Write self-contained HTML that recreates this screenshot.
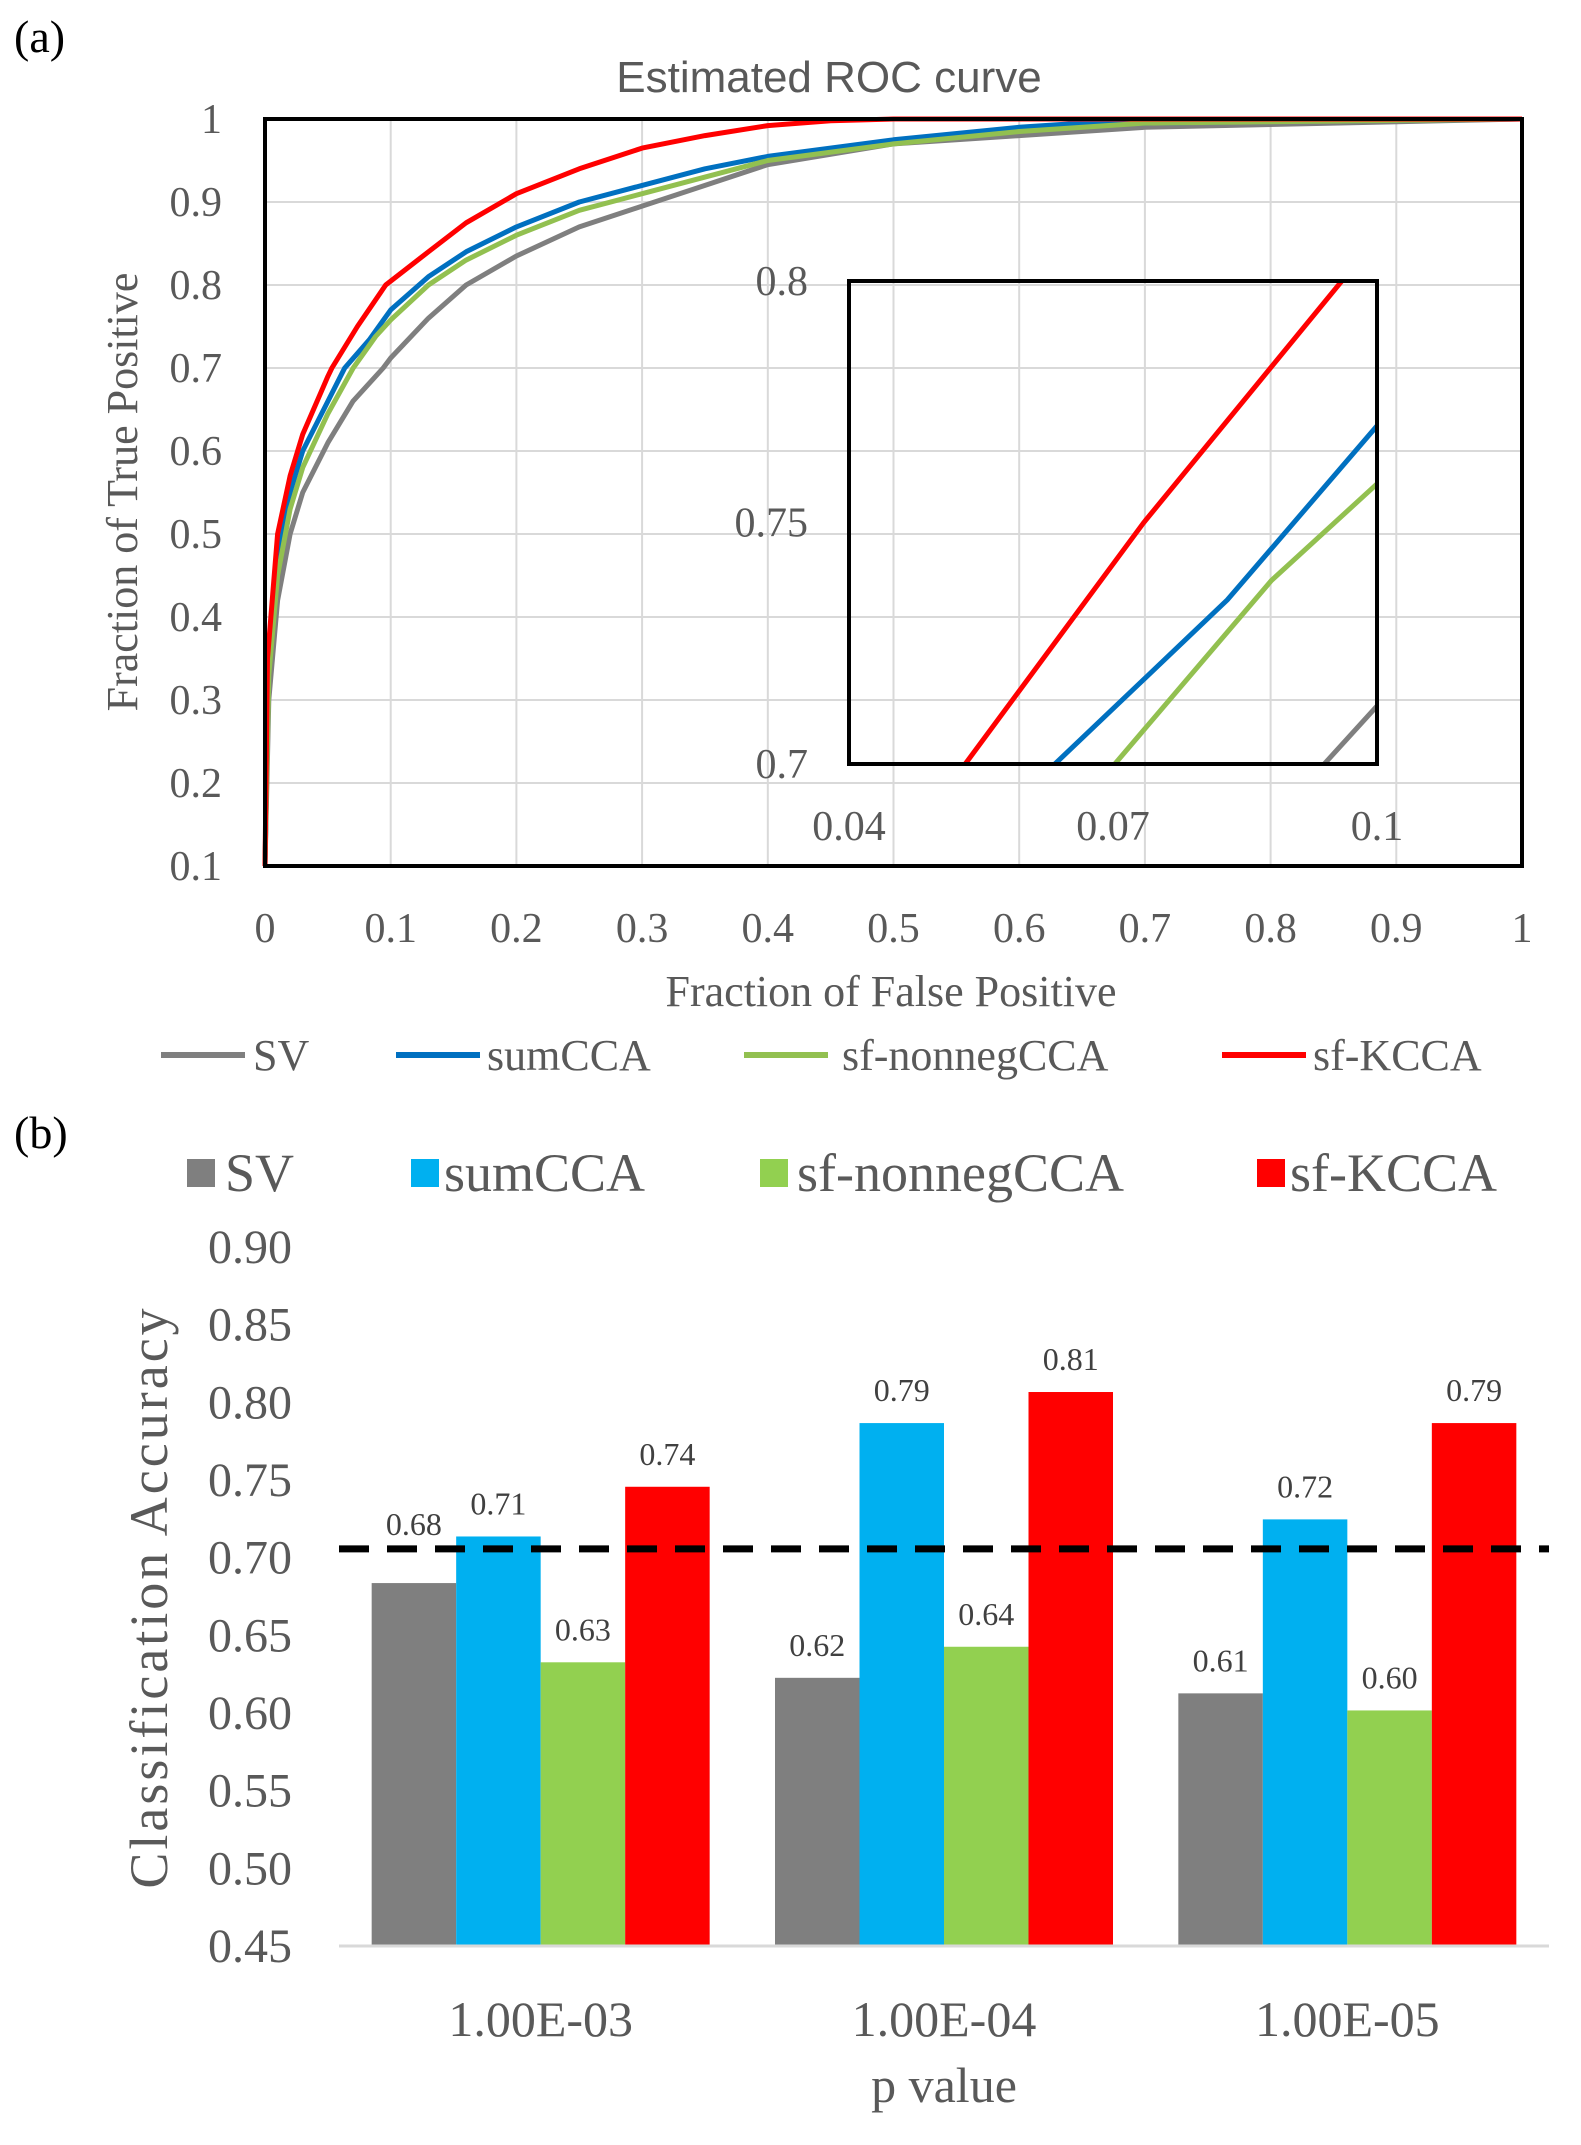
<!DOCTYPE html>
<html><head><meta charset="utf-8"><style>
html,body{margin:0;padding:0;background:#fff;width:1581px;height:2145px;overflow:hidden;}
svg{display:block;}
text{font-family:"Liberation Serif",serif;fill:#595959;}
</style></head><body>
<svg id="s" width="1581" height="2145" viewBox="0 0 1581 2145" xmlns="http://www.w3.org/2000/svg">
<text x="14" y="52" font-size="46" style="fill:#000">(a)</text>
<text x="829" y="92" font-size="44" text-anchor="middle" style="font-family:'Liberation Sans',sans-serif">Estimated ROC curve</text>
<g id="roc"></g>
<text x="14" y="1148" font-size="46" style="fill:#000">(b)</text>
<g id="bar"></g>
</svg>
<script>
const NS="http://www.w3.org/2000/svg";
function mk(p,t,a,txt){const e=document.createElementNS(NS,t);for(const k in a)e.setAttribute(k,a[k]);if(txt!==undefined)e.textContent=txt;p.appendChild(e);return e;}

// ---- ROC data ----
const seriesNames=["SV","sumCCA","sf-nonnegCCA","sf-KCCA"];
const seriesColors=["#7f7f7f","#0070c0","#92c050","#ff0000"];
const svFpr=[0,0.003,0.01,0.02,0.03,0.05,0.07,0.094,0.1,0.13,0.16,0.2,0.25,0.3,0.35,0.4,0.5,0.6,0.7,1];
const svTpr=[0.1,0.3,0.42,0.5,0.55,0.61,0.66,0.7,0.712,0.76,0.8,0.835,0.87,0.895,0.92,0.945,0.97,0.98,0.99,1];
const sumFpr=[0,0.003,0.01,0.02,0.03,0.05,0.0634,0.083,0.1,0.13,0.16,0.2,0.25,0.3,0.35,0.4,0.5,0.6,0.65,0.7,0.8,1];
const sumTpr=[0.1,0.35,0.47,0.55,0.6,0.66,0.7,0.734,0.77,0.81,0.84,0.87,0.9,0.92,0.94,0.955,0.975,0.99,0.995,0.995,0.997,1];
const nnFpr=[0,0.003,0.01,0.02,0.03,0.05,0.0702,0.088,0.1,0.13,0.16,0.2,0.25,0.3,0.35,0.4,0.5,0.6,0.7,1];
const nnTpr=[0.1,0.33,0.45,0.53,0.58,0.645,0.7,0.738,0.758,0.8,0.83,0.86,0.89,0.91,0.93,0.95,0.97,0.985,0.995,1];
const kFpr=[0,0.002,0.01,0.02,0.03,0.05,0.0532,0.0735,0.096,0.13,0.16,0.2,0.25,0.3,0.35,0.4,0.45,0.5,1];
const kTpr=[0.1,0.35,0.5,0.57,0.62,0.69,0.7,0.75,0.8,0.84,0.875,0.91,0.94,0.965,0.98,0.992,0.998,1,1];
const xTicks=["0","0.1","0.2","0.3","0.4","0.5","0.6","0.7","0.8","0.9","1"];
const yTicks=["0.1","0.2","0.3","0.4","0.5","0.6","0.7","0.8","0.9","1"];
const insetXTicks=["0.04","0.07","0.1"];
const insetYTicks=["0.7","0.75","0.8"];

const roc=document.getElementById('roc');
const L=265,R=1522,T=119,B=866;
const X=v=>L+(v-0)/(1-0)*(R-L);
const Y=v=>B-(v-0.1)/(0.9)*(B-T);
for(let i=0;i<xTicks.length;i++){const v=+xTicks[i];
 const g=mk(roc,'line',{x1:X(v),x2:X(v),y1:T,y2:B,stroke:'#d9d9d9','stroke-width':2});
 
 const t=mk(roc,'text',{x:X(v),y:942,'font-size':42,'text-anchor':'middle'},xTicks[i]);
 }
for(let i=0;i<yTicks.length;i++){const v=+yTicks[i];
 const g=mk(roc,'line',{x1:L,x2:R,y1:Y(v),y2:Y(v),stroke:'#d9d9d9','stroke-width':2});
 
 const t=mk(roc,'text',{x:222,y:Y(v)+14,'font-size':42,'text-anchor':'end'},yTicks[i]);
 }
const xs=[svFpr,sumFpr,nnFpr,kFpr],ys=[svTpr,sumTpr,nnTpr,kTpr];
for(let s=0;s<4;s++){
 const d=xs[s].map((x,i)=>(i?'L':'M')+X(x).toFixed(1)+','+Y(ys[s][i]).toFixed(1)).join('');
 const p=mk(roc,'path',{d:d,fill:'none',stroke:seriesColors[s],'stroke-width':5,'stroke-linejoin':'round'});
 }
const fr=mk(roc,'rect',{x:L,y:T,width:R-L,height:B-T,fill:'none',stroke:'#000','stroke-width':4});

// inset
const iL=849,iR=1377,iT=281,iB=764;
const IX=v=>iL+(v-0.04)/0.06*(iR-iL);
const IY=v=>iB-(v-0.7)/0.1*(iB-iT);
mk(roc,'clipPath',{id:'ic'});
mk(document.getElementById('ic'),'rect',{x:iL,y:iT,width:iR-iL,height:iB-iT});
for(let s=0;s<4;s++){
 const d=xs[s].map((x,i)=>(i?'L':'M')+IX(x).toFixed(1)+','+IY(ys[s][i]).toFixed(1)).join('');
 const p=mk(roc,'path',{d:d,fill:'none',stroke:seriesColors[s],'stroke-width':5,'clip-path':'url(#ic)'});
 }
const ifr=mk(roc,'rect',{x:iL,y:iT,width:iR-iL,height:iB-iT,fill:'none',stroke:'#000','stroke-width':4});

for(const s of insetXTicks){const t=mk(roc,'text',{x:IX(+s),y:840,'font-size':42,'text-anchor':'middle'},s);
 }
for(const s of insetYTicks){const t=mk(roc,'text',{x:808,y:IY(+s)+14,'font-size':42,'text-anchor':'end'},s);
 }
let t1=mk(roc,'text',{x:891,y:1006,'font-size':44,'text-anchor':'middle'},'Fraction of False Positive');

let t2=mk(roc,'text',{x:0,y:0,'font-size':44,'text-anchor':'middle',transform:'translate(137,492) rotate(-90)'},'Fraction of True Positive');

const legLX=[161,396,744,1222],legTX=[253,487,842,1313];
for(let s=0;s<4;s++){
 const l=mk(roc,'line',{x1:legLX[s],x2:legLX[s]+84,y1:1055,y2:1055,stroke:seriesColors[s],'stroke-width':6});
 
 const t=mk(roc,'text',{x:legTX[s],y:1070,'font-size':44},seriesNames[s]);
 }

// ---- Bar data ----
const categories=["1.00E-03","1.00E-04","1.00E-05"];
const svVals=[0.683,0.622,0.612];
const sumVals=[0.713,0.786,0.724];
const nnVals=[0.632,0.642,0.601];
const kVals=[0.745,0.806,0.786];
const barLabels=[["0.68","0.62","0.61"],["0.71","0.79","0.72"],["0.63","0.64","0.60"],["0.74","0.81","0.79"]];
const barTicks=["0.45","0.50","0.55","0.60","0.65","0.70","0.75","0.80","0.85","0.90"];
const threshold=0.705;
const barColors=["#7f7f7f","#00b0f0","#92d050","#ff0000"];

const bar=document.getElementById('bar');
const bL=339,bR=1549,bB=1945,bT=1246;
const BY=v=>bB-(v-0.45)/0.45*(bB-bT);
const band=(bR-bL)/categories.length, bw=84.5;
for(const s of barTicks){const t=mk(bar,'text',{x:292,y:BY(+s)+17,'font-size':48,'text-anchor':'end'},s);
 }
const vals=[svVals,sumVals,nnVals,kVals];
for(let c=0;c<categories.length;c++){
 const cx=bL+band*(c+0.5);
 for(let s=0;s<4;s++){
  const x=cx-2*bw+s*bw, v=vals[s][c];
  const r=mk(bar,'rect',{x:x,y:BY(v),width:bw,height:bB-BY(v),fill:barColors[s]});
  
  // lift label above threshold line when it would collide
  let ly=BY(v)-22;
  if(Math.abs(ly-10-BY(threshold))<22) ly=BY(threshold)-14;
  const t=mk(bar,'text',{x:x+bw/2,y:ly,'font-size':32,'text-anchor':'middle',style:'fill:#404040'},barLabels[s][c]);
  }
 const t=mk(bar,'text',{x:cx,y:2036,'font-size':50,'text-anchor':'middle'},categories[c]);
 }
const ax=mk(bar,'line',{x1:bL,x2:bR,y1:bB+1,y2:bB+1,stroke:'#d9d9d9','stroke-width':3});

const dl=mk(bar,'line',{x1:bL,x2:bR,y1:BY(threshold),y2:BY(threshold),stroke:'#000','stroke-width':7,'stroke-dasharray':'30 18'});

let t3=mk(bar,'text',{x:944,y:2102,'font-size':50,'text-anchor':'middle'},'p value');

let t4=mk(bar,'text',{x:0,y:0,'font-size':54,'text-anchor':'middle',transform:'translate(167,1597) rotate(-90)','letter-spacing':'3'},'Classification Accuracy');

const bSqX=[187,411,760,1257],bTX=[225,444,797,1290];
for(let s=0;s<4;s++){
 const r=mk(bar,'rect',{x:bSqX[s],y:1159,width:28,height:28,fill:barColors[s]});
 
 const t=mk(bar,'text',{x:bTX[s],y:1191,'font-size':54},seriesNames[s]);
 }
</script>
</body></html>
